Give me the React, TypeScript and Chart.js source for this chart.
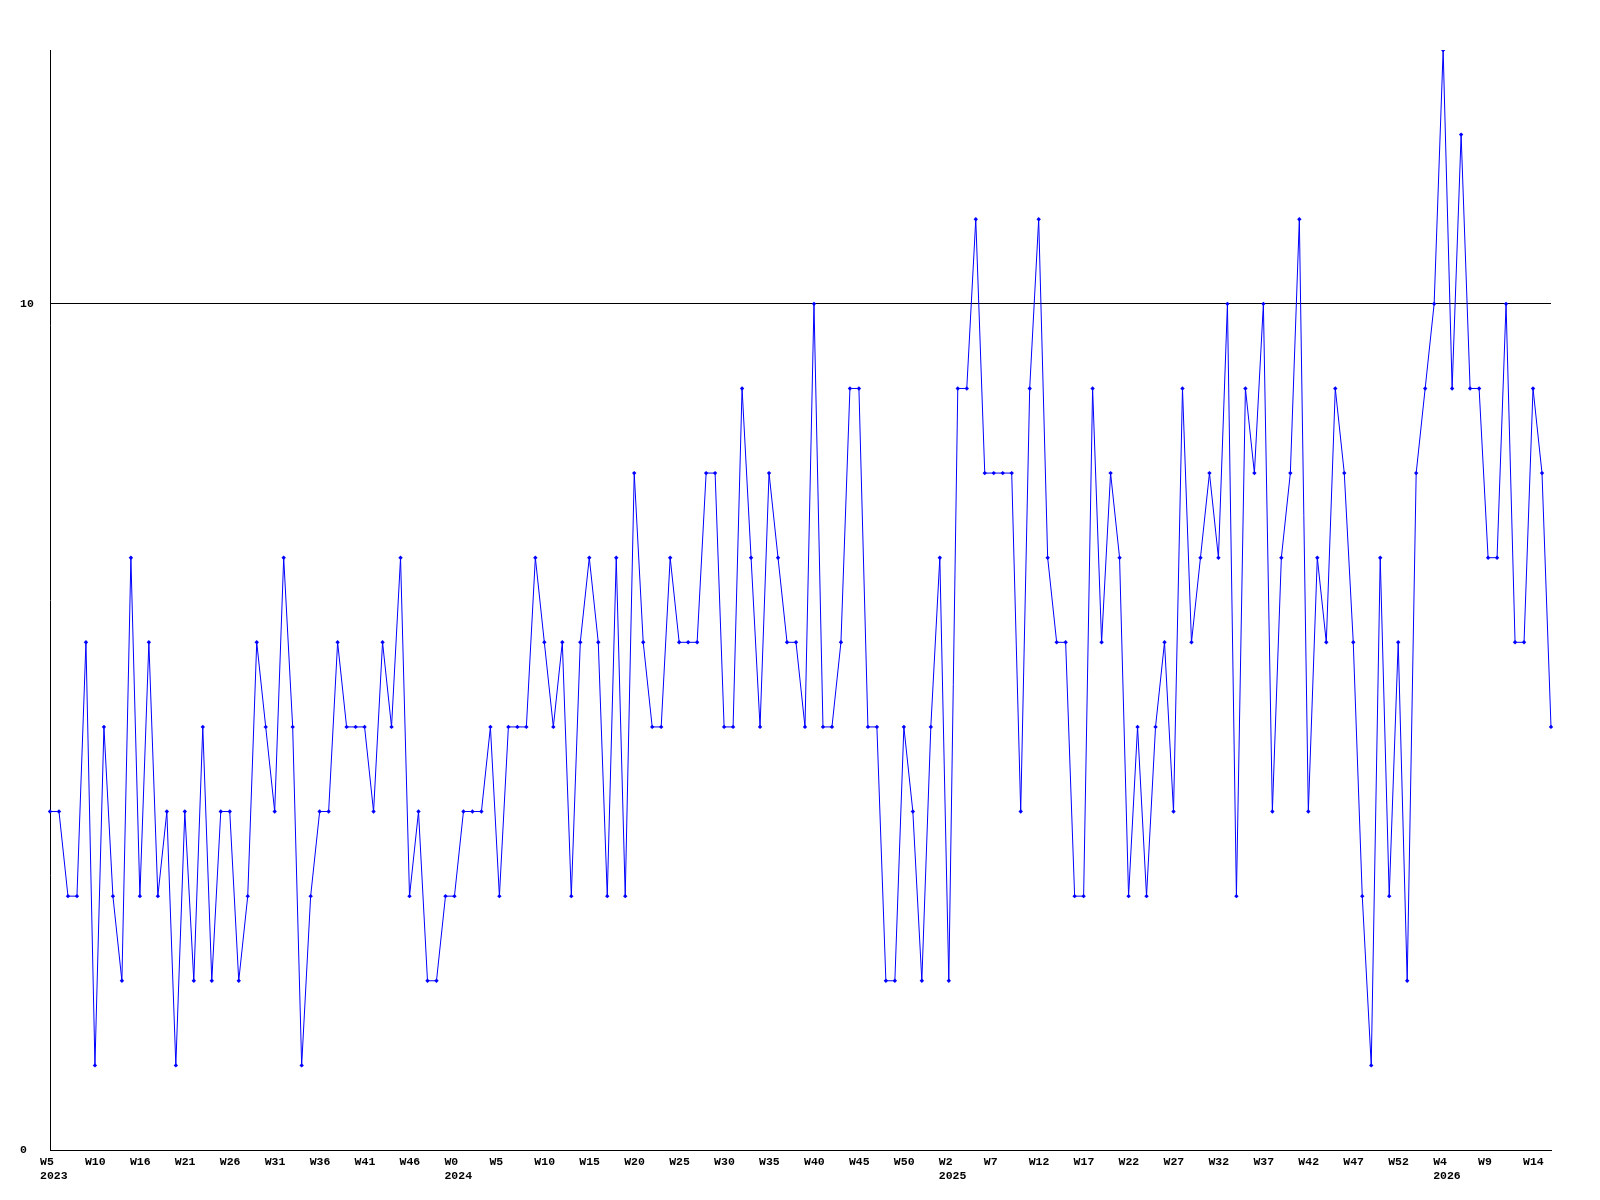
import React, { useEffect, useRef } from "react";
import { Chart, registerables } from "chart.js";

Chart.register(...registerables);

const VALUES: number[] = [
  4, 4, 3, 3, 6, 1, 5, 3, 2, 7,
  3, 6, 3, 4, 1, 4, 2, 5, 2, 4,
  4, 2, 3, 6, 5, 4, 7, 5, 1, 3,
  4, 4, 6, 5, 5, 5, 4, 6, 5, 7,
  3, 4, 2, 2, 3, 3, 4, 4, 4, 5,
  3, 5, 5, 5, 7, 6, 5, 6, 3, 6,
  7, 6, 3, 7, 3, 8, 6, 5, 5, 7,
  6, 6, 6, 8, 8, 5, 5, 9, 7, 5,
  8, 7, 6, 6, 5, 10, 5, 5, 6, 9,
  9, 5, 5, 2, 2, 5, 4, 2, 5, 7,
  2, 9, 9, 11, 8, 8, 8, 8, 4, 9,
  11, 7, 6, 6, 3, 3, 9, 6, 8, 7,
  3, 5, 3, 5, 6, 4, 9, 6, 7, 8,
  7, 10, 3, 9, 8, 10, 4, 7, 8, 11,
  4, 7, 6, 9, 8, 6, 3, 1, 7, 3,
  6, 2, 8, 9, 10, 13, 9, 12, 9, 9,
  7, 7, 10, 6, 6, 9, 8, 5,
];

// one week label every TICK_EVERY points
const TICK_EVERY = 5;
const WEEK_TICKS: string[] = [
  "W5", "W10", "W16", "W21", "W26", "W31", "W36", "W41", "W46",
  "W0", "W5", "W10", "W15", "W20", "W25", "W30", "W35", "W40", "W45", "W50",
  "W2", "W7", "W12", "W17", "W22", "W27", "W32", "W37", "W42", "W47", "W52",
  "W4", "W9", "W14",
];
const YEAR_TICK_INDEX: number[] = [0, 9, 20, 31];
const YEAR_LABELS: string[] = ["2023", "2024", "2025", "2026"];
const Y_TICKS: number[] = [0, 10];
const Y_MIN = 0;
const Y_MAX = 13;

export default function App() {
  const ref = useRef<HTMLCanvasElement | null>(null);

  useEffect(() => {
    if (!ref.current) return;
    const labels = VALUES.map((_, i) => String(i));
    const font = { family: "'Liberation Mono', 'DejaVu Sans Mono', monospace", size: 11.5, weight: "bold" as const, lineHeight: 14 / 11.5 };
    const chart = new Chart(ref.current, {
      type: "line",
      data: {
        labels,
        datasets: [
          {
            data: VALUES,
            borderColor: "#0000ff",
            backgroundColor: "#0000ff",
            borderWidth: 1,
            pointStyle: "rectRot",
            pointRadius: 2.2,
            pointBorderWidth: 0,
            pointBackgroundColor: "#0000ff",
            tension: 0,
            fill: false,
          },
        ],
      },
      options: {
        responsive: false,
        animation: false,
        layout: { padding: { left: 20, top: 50, right: 49, bottom: 0 } },
        plugins: { legend: { display: false }, tooltip: { enabled: false } },
        scales: {
          x: {
            type: "category",
            offset: false,
            grid: { display: false, drawTicks: false },
            border: { display: true, color: "#000000", width: 1 },
            ticks: {
              autoSkip: false,
              maxRotation: 0,
              minRotation: 0,
              align: "start",
              labelOffset: -10,
              padding: 5,
              color: "#000000",
              font,
              callback: (_v: any, index: number) => {
                if (index % TICK_EVERY !== 0) return "";
                const t = index / TICK_EVERY;
                const w = WEEK_TICKS[t];
                if (w === undefined) return "";
                const yi = YEAR_TICK_INDEX.indexOf(t);
                return yi >= 0 ? [w, YEAR_LABELS[yi]] : w;
              },
            },
            afterFit: (scale: any) => {
              scale.height = 50;
            },
          },
          y: {
            min: Y_MIN,
            max: Y_MAX,
            grid: { display: true, drawTicks: false, color: "#000000", lineWidth: 1 },
            border: { display: true, color: "#000000", width: 1 },
            ticks: {
              crossAlign: "far",
              padding: 0,
              color: "#000000",
              font,
            },
            afterBuildTicks: (scale: any) => {
              scale.ticks = Y_TICKS.map((v) => ({ value: v }));
            },
            afterFit: (scale: any) => {
              scale.width = 30;
            },
          },
        },
      },
    });
    return () => chart.destroy();
  }, []);

  return (
    <div style={{ position: "absolute", left: 0, top: 0, width: 1600, height: 1200, background: "#ffffff" }}>
      <canvas ref={ref} width={1600} height={1200} style={{ display: "block", width: 1600, height: 1200 }} />
    </div>
  );
}
